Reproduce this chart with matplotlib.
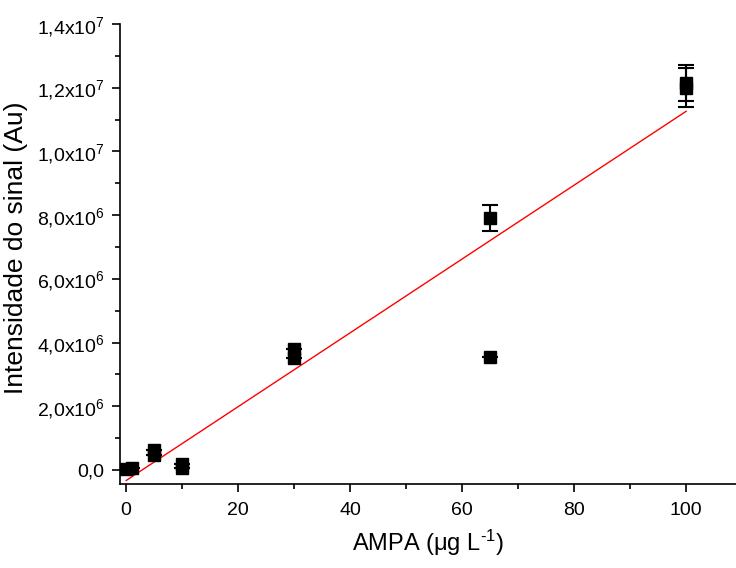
import matplotlib
matplotlib.use("Agg")
import matplotlib.pyplot as plt
from matplotlib.ticker import FuncFormatter, MultipleLocator
import numpy as np

plt.rcParams['font.family'] = ['Liberation Sans', 'DejaVu Sans']
plt.rcParams['mathtext.fontset'] = 'custom'
plt.rcParams['mathtext.rm'] = 'Liberation Sans'
plt.rcParams['mathtext.it'] = 'Liberation Sans:italic'
plt.rcParams['axes.unicode_minus'] = False

# Data (replicate measurements)
conc = [0, 1, 5, 5, 10, 10, 30, 30, 65, 65, 100, 100]
signal = [0.02e6, 0.05e6, 0.47e6, 0.62e6, 0.05e6, 0.2e6, 3.52e6, 3.80e6,
          7.92e6, 3.55e6, 1.215e7, 1.200e7]
err = [0, 0, 0, 0, 0, 0, 0, 0,
       0.41e6, 0, 0.57e6, 0.61e6]

# Linear fit line
fit_slope = 1.159e5
fit_intercept = -0.33e6
fit_x = [0, 100]

fig = plt.figure(figsize=(7.36, 5.68), dpi=100)
ax = fig.add_axes([120/736, 84/568, 616/736, 460/568])

ax.errorbar(conc, signal, yerr=err, fmt='s', color='black', ms=8.5,
            capsize=6, elinewidth=1.5, capthick=1.5, zorder=3)
fx = np.array(fit_x)
ax.plot(fx, fit_slope * fx + fit_intercept, color='red', lw=1, zorder=2)

ax.set_xlim(-1.1, 108.9)
ax.set_ylim(-0.44e6, 1.4e7)

ax.spines['top'].set_visible(False)
ax.spines['right'].set_visible(False)
ax.spines['left'].set_linewidth(1.2)
ax.spines['bottom'].set_linewidth(1.2)

ax.xaxis.set_major_locator(MultipleLocator(20))
ax.xaxis.set_minor_locator(MultipleLocator(10))
ax.yaxis.set_major_locator(MultipleLocator(2e6))
ax.yaxis.set_minor_locator(MultipleLocator(1e6))

def yfmt(v, pos):
    if abs(v) < 1:
        return "0,0"
    e = int(np.floor(np.log10(abs(v))))
    m = v / 10**e
    return (f"{m:.1f}".replace('.', ',')) + r"x10$^{%d}$" % e

ax.yaxis.set_major_formatter(FuncFormatter(yfmt))

ax.tick_params(axis='both', which='major', direction='out', length=6, width=1.2,
               labelsize=14)
ax.tick_params(axis='y', which='major', labelsize=14, pad=5)
ax.tick_params(axis='x', which='major', pad=7)
ax.tick_params(axis='both', which='minor', direction='out', length=3.5, width=1.2)

ax.set_xlabel(r"AMPA ($\mathrm{\mu}$g L$^{\text{-1}}$)", fontsize=17, labelpad=6)
ax.set_ylabel("Intensidade do sinal (Au)", fontsize=19)
ax.yaxis.set_label_coords(-0.15, 0.514)

fig.savefig("out.png", dpi=100)
